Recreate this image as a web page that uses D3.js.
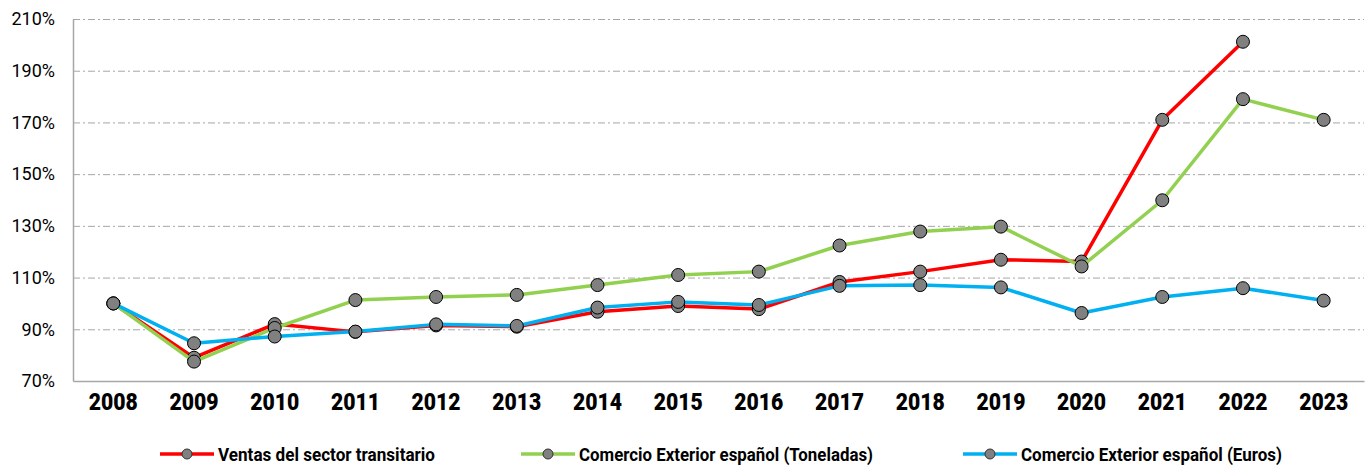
<!DOCTYPE html>
<html>
<head>
<meta charset="utf-8">
<script src="https://cdn.jsdelivr.net/npm/d3@7"></script>
<style>
  body { margin: 0; background: #fff; }
  svg { display: block; }
</style>
</head>
<body>
<div id="vis"></div>
<script>
const FRAME_WIDTH = 1371;
const FRAME_HEIGHT = 467;
const MARGINS = {left: 73, right: 7, top: 19, bottom: 86};

// data
const years = ["2008", "2009", "2010", "2011", "2012", "2013", "2014", "2015",
               "2016", "2017", "2018", "2019", "2020", "2021", "2022", "2023"];
const ventas = [100, 79, 92, 89, 91.5, 91, 96.8, 99, 97.8, 108.3, 112.3, 116.9, 116.2, 171, 201.2, null];
const toneladas = [100, 77.5, 90.5, 101.3, 102.5, 103.3, 107.1, 111, 112.3, 122.4, 127.8, 129.7, 114.3, 139.9, 179, 171];
const euros = [100, 84.6, 87.2, 89.1, 91.9, 91.3, 98.4, 100.6, 99.4, 106.8, 107.1, 106.2, 96.3, 102.5, 105.9, 101.1];
const yTicks = [70, 90, 110, 130, 150, 170, 190, 210];

const seriesNames = ["Ventas del sector transitario",
                     "Comercio Exterior español (Toneladas)",
                     "Comercio Exterior español (Euros)"];
const seriesColors = ["#ff0000", "#92d050", "#00b0f0"];
const seriesValues = [ventas, toneladas, euros];

const VIS_WIDTH = FRAME_WIDTH - MARGINS.left - MARGINS.right;
const VIS_HEIGHT = FRAME_HEIGHT - MARGINS.top - MARGINS.bottom;

const FRAME = d3.select("#vis")
  .append("svg")
    .attr("width", FRAME_WIDTH)
    .attr("height", FRAME_HEIGHT)
    .style("font-family", "Roboto, 'Liberation Sans', sans-serif");

const X_SCALE = d3.scaleBand()
  .domain(years)
  .range([MARGINS.left, MARGINS.left + VIS_WIDTH]);

const Y_SCALE = d3.scaleLinear()
  .domain([70, 210])
  .range([MARGINS.top + VIS_HEIGHT, MARGINS.top]);

const xc = (d) => X_SCALE(d) + X_SCALE.bandwidth() / 2;

// gridlines
FRAME.append("g")
  .selectAll("line")
  .data(yTicks.filter((t) => t > 70))
  .enter()
  .append("line")
    .attr("x1", MARGINS.left)
    .attr("x2", MARGINS.left + VIS_WIDTH)
    .attr("y1", (d) => Y_SCALE(d) + 0.5)
    .attr("y2", (d) => Y_SCALE(d) + 0.5)
    .attr("stroke", "#a6a6a6")
    .attr("stroke-width", 1)
    .attr("stroke-dasharray", "7,3,2,3");

// y axis
const yAxis = FRAME.append("g")
  .attr("transform", "translate(" + MARGINS.left + ",0)")
  .call(d3.axisLeft(Y_SCALE).tickValues(yTicks).tickSize(0).tickPadding(18)
    .tickFormat((d) => d + "%"));
yAxis.select(".domain").attr("stroke", "#a6a6a6").attr("stroke-width", 1.5);
yAxis.selectAll("text")
  .attr("font-size", 18)
  .attr("fill", "#000")
  .attr("font-family", "Roboto, sans-serif");

// x axis
const xAxis = FRAME.append("g")
  .attr("transform", "translate(0," + (MARGINS.top + VIS_HEIGHT) + ")")
  .call(d3.axisBottom(X_SCALE).tickSize(0).tickPadding(12));
xAxis.select(".domain").attr("stroke", "#a6a6a6").attr("stroke-width", 1.5);
xAxis.selectAll("text")
  .attr("font-size", 24)
  .attr("font-weight", "900")
  .attr("fill", "#000")
  .attr("font-family", "Roboto, sans-serif")
  .attr("textLength", 49)
  .attr("lengthAdjust", "spacingAndGlyphs");

// series
const line = d3.line()
  .defined((d) => d.v !== null)
  .x((d) => xc(d.year))
  .y((d) => Y_SCALE(d.v));

seriesValues.forEach((vals, i) => {
  const pts = years.map((y, j) => ({year: y, v: vals[j]}));
  const g = FRAME.append("g");
  g.append("path")
    .datum(pts)
    .attr("d", line)
    .attr("fill", "none")
    .attr("stroke", seriesColors[i])
    .attr("stroke-width", 3.5)
    .attr("stroke-linejoin", "round");
  g.selectAll("circle")
    .data(pts.filter((d) => d.v !== null))
    .enter()
    .append("circle")
      .attr("cx", (d) => xc(d.year))
      .attr("cy", (d) => Y_SCALE(d.v))
      .attr("r", 6.5)
      .attr("fill", "#808080")
      .attr("stroke", "#000")
      .attr("stroke-width", 1);
});

// legend
const legendX = [160, 521, 963];
const legendTextLen = [217, 294, 261];
const legendY = 454;
const legend = FRAME.append("g")
  .selectAll("g")
  .data(seriesNames)
  .enter()
  .append("g")
    .attr("transform", (d, i) => "translate(" + legendX[i] + "," + legendY + ")");

legend.append("line")
  .attr("x1", 0).attr("x2", 54)
  .attr("stroke", (d, i) => seriesColors[i])
  .attr("stroke-width", 3.5);
legend.append("circle")
  .attr("cx", 27)
  .attr("r", 5)
  .attr("fill", "#808080")
  .attr("stroke", "#333")
  .attr("stroke-width", 1);
legend.append("text")
  .attr("x", 58)
  .attr("dy", "0.36em")
  .attr("font-size", 19)
  .attr("font-weight", "bold")
  .attr("fill", "#000")
  .attr("textLength", (d, i) => legendTextLen[i])
  .attr("lengthAdjust", "spacingAndGlyphs")
  .text((d) => d);
</script>
</body>
</html>
